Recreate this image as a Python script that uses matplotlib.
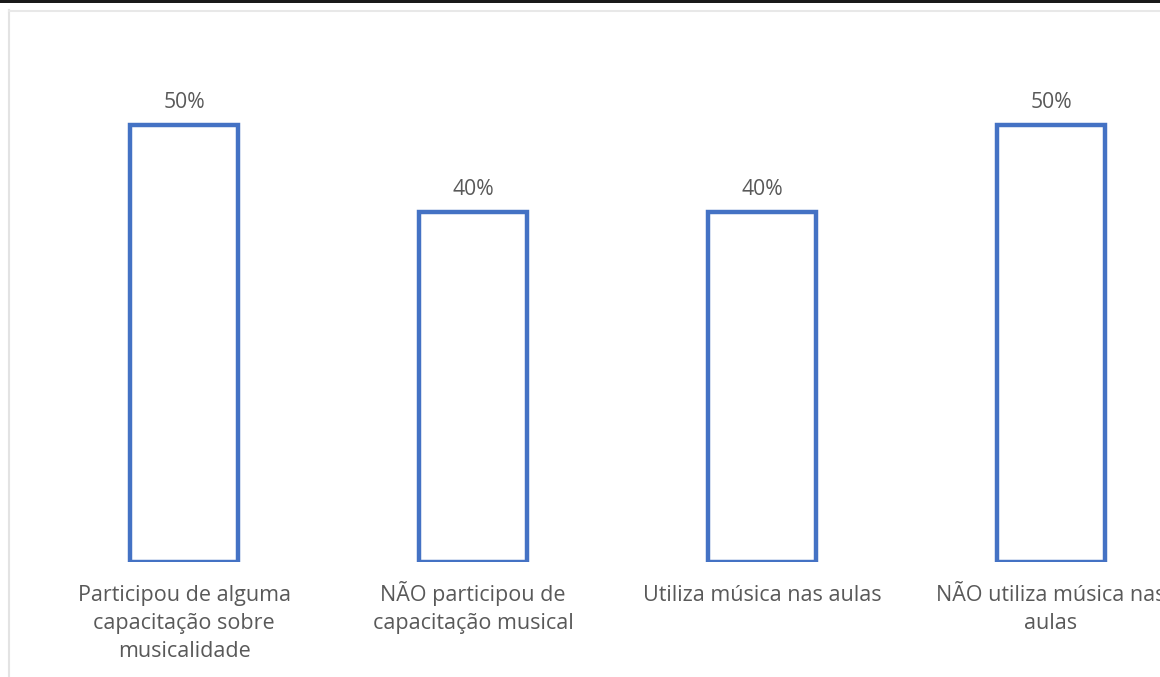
import matplotlib.pyplot as plt
from matplotlib.patches import Rectangle
from matplotlib.lines import Line2D

categorias = [
    'Participou de alguma\ncapacitação sobre\nmusicalidade',
    'NÃO participou de\ncapacitação musical',
    'Utiliza música nas aulas',
    'NÃO utiliza música nas\naulas',
]
percentuais = [50, 40, 40, 50]

W, H = 1160, 677
azul = '#4472C4'
cinza = '#595959'
plt.rcParams['font.family'] = ['Open Sans', 'DejaVu Sans']

fig = plt.figure(figsize=(W / 100, H / 100), dpi=100)

# eixo alinhado com a base das barras (pixel 562 a partir do topo)
base_px = H - 562
ax = fig.add_axes([0, base_px / H, 1, (H - base_px) / H])
unit = 289.0
x0 = 184.0
ax.set_xlim(-x0 / unit, (W - x0) / unit)
ax.set_ylim(0, 50 * (H - base_px) / 437)

xs = range(len(percentuais))
ax.bar(xs, percentuais, width=0.375, facecolor='white', edgecolor=azul, linewidth=3.2)
for x, v in zip(xs, percentuais):
    ax.annotate(f'{v}%', (x, v), xytext=(0, 9), textcoords='offset points',
                ha='center', va='bottom', fontsize=15.2, color=cinza)

# rótulos das categorias, uma linha por vez para manter as linhas de base alinhadas
for x, cat in zip(xs, categorias):
    for i, linha in enumerate(cat.split('\n')):
        ax.annotate(linha, (x, 0), xytext=(0, -28.1 - 20.2 * i),
                    textcoords='offset points', ha='center', va='baseline',
                    fontsize=15.5, color=cinza, annotation_clip=False)

ax.set_xticks([])
ax.set_yticks([])
for s in ax.spines.values():
    s.set_visible(False)
ax.patch.set_alpha(0)

# moldura cinza clara e faixa escura no topo
fig.add_artist(Line2D([9 / W, 9 / W], [0, 1 - 10 / H], color='#e3e3e3', lw=1.5))
fig.add_artist(Line2D([9 / W, 1], [1 - 10.5 / H, 1 - 10.5 / H], color='#e8e8e8', lw=1.5))
fig.add_artist(Rectangle((0, 1 - 3 / H), 1, 3 / H, transform=fig.transFigure,
                         facecolor='#1a1a1a', edgecolor='none'))

fig.savefig('out.png', dpi=100)
